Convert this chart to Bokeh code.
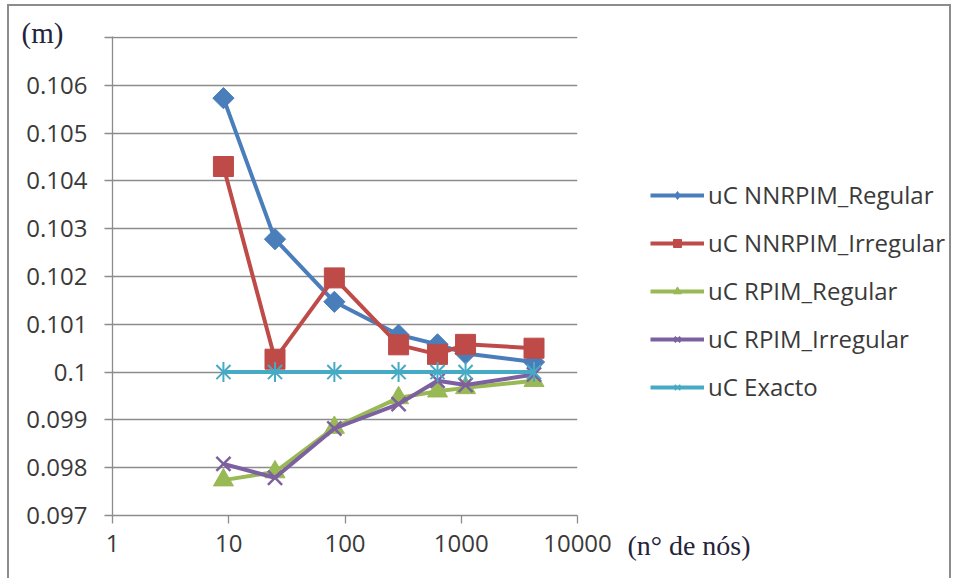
from bokeh.plotting import figure
from bokeh.layouts import row
from bokeh.models import (Legend, LegendItem, Title, LinearAxis, FixedTicker, CustomJSTickFormatter, Range1d)
from bokeh.embed import file_html
from bokeh.resources import INLINE

nodes = [9, 25, 81, 289, 625, 1089, 4225]
nnrpim_regular = [0.10573, 0.10278, 0.10147, 0.10078, 0.10058, 0.10039, 0.10021]
nnrpim_irregular = [0.1043, 0.10027, 0.10197, 0.10057, 0.10037, 0.10058, 0.1005]
rpim_regular = [0.09774, 0.09791, 0.09884, 0.09946, 0.0996, 0.09967, 0.09982]
rpim_irregular = [0.09808, 0.09779, 0.09882, 0.09933, 0.09982, 0.09973, 0.09995]
exacto = [0.1, 0.1, 0.1, 0.1, 0.1, 0.1, 0.1]
y_ticks = [0.097, 0.098, 0.099, 0.1, 0.101, 0.102, 0.103, 0.104, 0.105, 0.106, 0.107]
x_ticks = [1, 10, 100, 1000, 10000]
y_unit = "(m)"
x_unit = "(n\u00b0 de n\u00f3s)"

series = [
    ("uC NNRPIM_Regular", nnrpim_regular, "#4A7EBB", "diamond", 15),
    ("uC NNRPIM_Irregular", nnrpim_irregular, "#BE4B48", "square", 20),
    ("uC RPIM_Regular", rpim_regular, "#98B954", "triangle", 20),
    ("uC RPIM_Irregular", rpim_irregular, "#7D60A0", "x", 20),
    ("uC Exacto", exacto, "#46AAC5", "asterisk", 20),
]

FONT = "Open Sans"
TXT = "#3a3a3a"
GRID = "#8c8c8c"
SERIF = "Liberation Serif"
SERIF_COLOR = "#23233a"


def add_series(fig, name, xs, ys, color, marker, size, mk_width, legend_sample=False):
    ln = fig.line(xs, ys, line_color=color, line_width=4)
    rs = [ln]
    if marker == "asterisk":
        rs.append(fig.scatter(xs, ys, marker="x", size=size, line_color=color, line_width=mk_width))
        rs.append(fig.scatter(xs, ys, marker="dash", angle=1.5708, size=size, line_color=color, line_width=mk_width))
    elif marker == "x":
        rs.append(fig.scatter(xs, ys, marker="x", size=size, line_color=color, line_width=mk_width + 0.5))
    elif marker == "diamond":
        if legend_sample:
            rs.append(fig.scatter(xs, ys, marker="diamond", size=size, fill_color=color, line_color=color))
        else:
            rs.append(fig.scatter(xs, ys, marker="square", angle=0.7854, size=size, fill_color=color, line_color=color))
    else:
        rs.append(fig.scatter(xs, ys, marker=marker, size=size, fill_color=color, line_color=color))
    return rs


# ---------------- main chart ----------------
p = figure(width=606, height=572, x_axis_type="log",
           x_range=Range1d(1, 10000), y_range=Range1d(0.097, 0.10702),
           output_backend="svg", toolbar_location=None,
           min_border_left=103, min_border_right=38, min_border_top=30, min_border_bottom=63)
p.outline_line_color = None
p.background_fill_color = "white"
p.border_fill_color = "white"

p.xgrid.grid_line_color = None
p.ygrid.grid_line_color = GRID
p.ygrid.grid_line_width = 1.3
p.ygrid.ticker = FixedTicker(ticks=y_ticks)

p.yaxis.ticker = FixedTicker(ticks=y_ticks)
p.yaxis.formatter = CustomJSTickFormatter(code="""
if (tick > 0.1065) return "";
let s = tick.toFixed(3);
s = s.replace(/0+$/, "");
return s;
""")
p.xaxis.ticker = FixedTicker(ticks=x_ticks)
p.xaxis.formatter = CustomJSTickFormatter(code="return Math.round(tick).toString();")

for ax in (p.xaxis[0], p.yaxis[0]):
    ax.axis_line_color = GRID
    ax.axis_line_width = 1.3
    ax.major_tick_line_color = GRID
    ax.major_tick_line_width = 1.3
    ax.major_tick_out = 8
    ax.major_tick_in = 0
    ax.minor_tick_line_color = None
    ax.major_label_text_font = FONT
    ax.major_label_text_font_size = "24px"
    ax.major_label_text_color = TXT
p.yaxis.major_label_standoff = 17
p.xaxis.major_label_standoff = 11

for name, vals, color, marker, size in series:
    add_series(p, name, nodes, vals, color, marker, size, 2)

t_m = Title(text=y_unit, align="left", offset=-91, standoff=-24,
            text_font=SERIF, text_font_size="29px", text_font_style="normal",
            text_color=SERIF_COLOR)
p.add_layout(t_m, "above")

# ---------------- legend panel ----------------
q = figure(width=334, height=572, x_range=Range1d(0, 1), y_range=Range1d(0, 1),
           x_axis_location=None, y_axis_location=None,
           output_backend="svg", toolbar_location=None,
           min_border_left=0, min_border_right=0, min_border_top=30, min_border_bottom=63)
q.grid.visible = False
q.outline_line_color = None
q.background_fill_color = "white"
q.border_fill_color = "white"

items = []
for name, vals, color, marker, size in series:
    # same series, drawn outside this panel's visible range: only its legend sample shows
    rs = add_series(q, name, nodes, vals, color, marker, size, 1.5, legend_sample=True)
    items.append(LegendItem(label=name, renderers=rs))

legend = Legend(items=items, location=(35, 112), orientation="vertical",
                glyph_width=54, glyph_height=20, label_height=20, spacing=15,
                padding=0, margin=0, label_standoff=4,
                label_text_font=FONT, label_text_font_size="24px", label_text_color=TXT,
                border_line_color=None, background_fill_alpha=0)
q.add_layout(legend, "center")

# x unit text placed as the single tick label of an invisible axis in this panel
unit_axis = LinearAxis(ticker=FixedTicker(ticks=[0.22]),
                       major_label_overrides={0.22: x_unit},
                       axis_line_color=None, major_tick_line_color=None,
                       minor_tick_line_color=None, major_tick_out=0, major_tick_in=0,
                       major_label_standoff=14,
                       major_label_text_font=SERIF, major_label_text_font_size="28px",
                       major_label_text_color=SERIF_COLOR)
q.add_layout(unit_axis, "below")

layout = row(p, q)
layout.styles = {"border": "2px solid #8c8c8c", "margin-left": "7px", "margin-top": "4px"}

open("out.html", "w").write(file_html(layout, INLINE))
